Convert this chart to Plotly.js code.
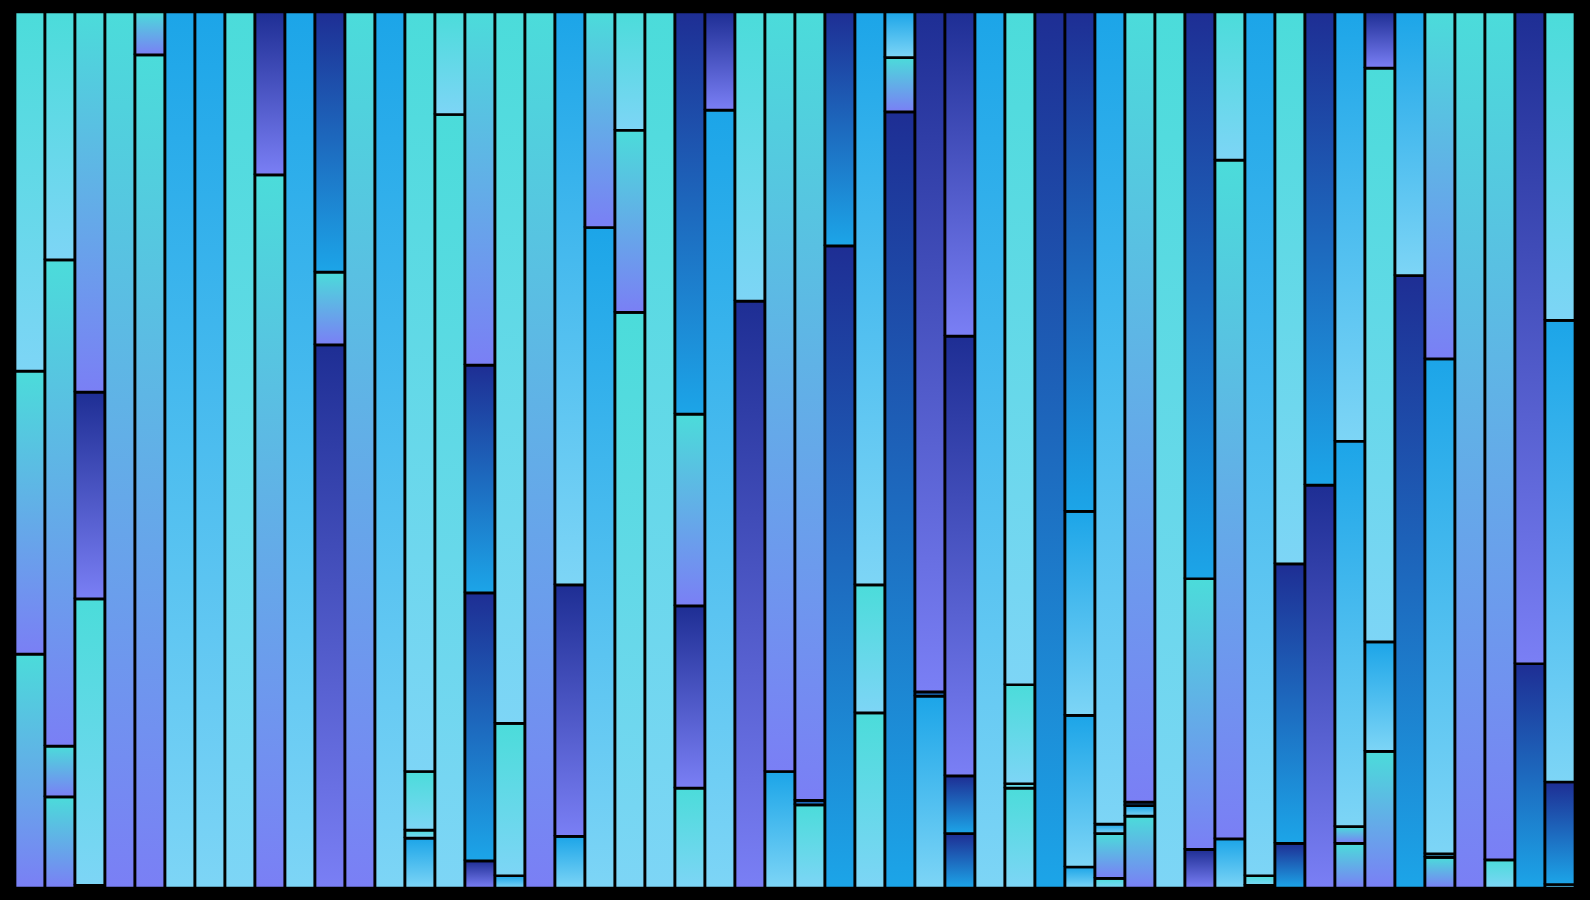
<!DOCTYPE html>
<html>
<head>
<meta charset="utf-8">
<script src="https://cdn.plot.ly/plotly-3.0.1.min.js"></script>
<style>html,body{margin:0;padding:0;background:#000;}#chart{width:1590px;height:900px;}</style>
</head>
<body>
<div id="chart"></div>
<script>
// 52 columns, each a 100% stack of up to 4 segments (level1 = bottom)
const categories = ["C1","C2","C3","C4","C5","C6","C7","C8","C9","C10","C11","C12","C13","C14","C15","C16","C17","C18","C19","C20","C21","C22","C23","C24","C25","C26","C27","C28","C29","C30","C31","C32","C33","C34","C35","C36","C37","C38","C39","C40","C41","C42","C43","C44","C45","C46","C47","C48","C49","C50","C51","C52"];

const level1 = [26.7,10.4,0.3,100,95.1,100,100,100,81.4,100,62.0,100,100,5.7,88.3,3.1,1.4,100,5.9,75.4,65.7,100,11.4,88.8,67.0,13.3,9.5,73.3,20.0,88.6,21.9,6.2,100,11.4,100,2.4,1.1,8.2,100,4.4,5.6,0.3,5.1,46.0,5.1,15.6,69.9,3.5,100,3.2,25.6,0.4];
const level2 = [32.3,5.8,32.7,0,4.9,0,0,0,18.6,0,8.3,0,0,0.9,11.7,30.6,17.4,0,28.7,24.6,20.8,0,20.8,11.2,33.0,86.7,0.5,26.7,14.6,6.2,0.5,6.6,0,0.5,0,17.3,5.1,1.2,0,30.9,77.5,1.1,31.9,54.0,1.9,12.5,30.1,0.4,0,96.8,74.4,11.7];
const level3 = [41.0,55.5,23.6,0,0,0,0,0,0,0,29.7,0,0,6.7,0,26.0,81.2,0,65.4,0,13.5,0,21.9,0,0,0,90.0,0,65.4,5.2,77.6,50.2,0,11.3,0,23.3,1.1,0.4,0,64.7,16.9,98.6,63.0,0,44.0,65.5,0,56.5,0,0,0,52.7];
const level4 = [0,28.3,43.4,0,0,0,0,0,0,0,0,0,0,86.7,0,40.3,0,0,0,0,0,0,45.9,0,0,0,0,0,0,0,0,37.0,0,76.8,0,57.0,92.7,90.2,0,0,0,0,0,0,49.0,6.4,0,39.6,0,0,0,35.2];

// gradient style of each segment
const grad1 = ["B","B","E","B","B","D","D","A","B","D","C","B","D","D","A","C","D","B","D","D","A","A","A","D","C","D","A","E","A","E","D","E","D","A","E","D","A","B","A","C","D","E","E","C","B","B","E","B","B","A","E","D"];
const grad2 = ["B","B","A","B","B","D","D","A","C","D","B","B","D","A","A","E","A","B","C","B","B","A","C","C","A","B","E","E","A","B","E","E","D","A","E","D","B","D","A","B","B","A","E","E","B","D","D","D","B","B","C","E"];
const grad3 = ["A","B","C","B","B","D","D","A","C","D","E","B","D","A","A","E","A","B","D","B","A","A","B","C","A","B","B","E","D","D","C","C","D","A","E","D","D","E","A","E","A","D","A","E","D","A","D","D","B","B","C","D"];
const grad4 = ["A","A","B","B","B","D","D","A","C","D","E","B","D","A","A","B","A","B","D","B","A","A","E","C","A","B","B","E","D","D","C","C","D","A","E","E","D","B","A","E","A","D","A","E","D","C","D","B","B","B","C","A"];

// gradient definitions: [top colour, bottom colour]
const gradients = {
  A: ["#4bdcda", "#7dd5f6"],
  B: ["#4bdcda", "#7a7ff5"],
  C: ["#1e2e94", "#7a7ff5"],
  D: ["#1ca5e8", "#7dd5f6"],
  E: ["#1e2e94", "#1ca5e8"]
};

const levels = [level1, level2, level3, level4];
const grads = [grad1, grad2, grad3, grad4];

const traces = [];
categories.forEach((cat, i) => {
  let base = 0;
  levels.forEach((lv, k) => {
    const v = lv[i];
    if (!v) return;
    const g = gradients[grads[k][i]];
    const top = base + v;
    traces.push({
      type: "scatter",
      mode: "lines",
      x: [i, i + 1, i + 1, i, i],
      y: [base, base, top, top, base],
      fill: "toself",
      fillgradient: { type: "vertical", colorscale: [[0, g[1]], [1, g[0]]] },
      line: { color: "#000000", width: 2.7 },
      hoverinfo: "skip",
      name: cat,
      showlegend: false
    });
    base = top;
  });
});

const layout = {
  width: 1590,
  height: 900,
  paper_bgcolor: "#000000",
  plot_bgcolor: "#000000",
  margin: { l: 15, r: 15, t: 12, b: 12 },
  xaxis: { range: [0, categories.length], visible: false, fixedrange: true },
  yaxis: { range: [0, 100], visible: false, fixedrange: true },
  showlegend: false
};

Plotly.newPlot("chart", traces, layout, { displayModeBar: false, staticPlot: true });
</script>
</body>
</html>
